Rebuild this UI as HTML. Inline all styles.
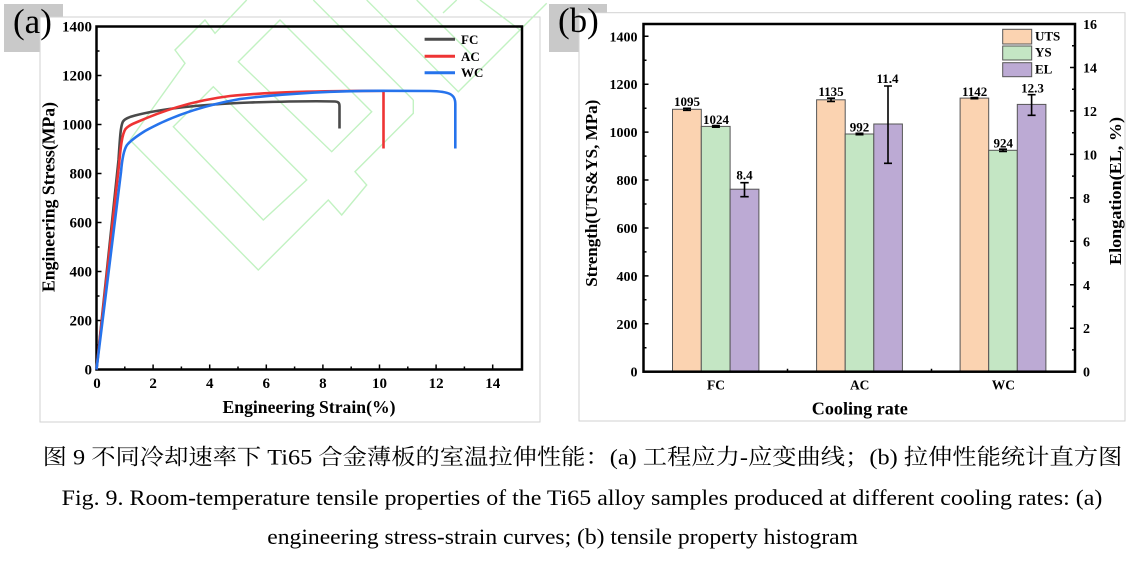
<!DOCTYPE html>
<html><head><meta charset="utf-8">
<style>
html,body{margin:0;padding:0;background:#fff;}
svg{display:block;}
text{font-family:"Liberation Serif","Noto Serif CJK SC",serif;}
.b{font-weight:bold;}
</style></head>
<body>
<svg width="1134" height="561" viewBox="0 0 1134 561" xmlns="http://www.w3.org/2000/svg">
<rect x="0" y="0" width="1134" height="561" fill="#fff"/>

<!-- ===== Panel (a) ===== -->
<rect x="4" y="4" width="59" height="48" fill="#c9c9c9"/>
<rect x="40" y="17" width="500" height="405" fill="#fff" stroke="#d2d2d2" stroke-width="1"/>

<!-- watermark -->
<g fill="none" stroke="#c2f2c2" stroke-width="1.4">
<polyline points="130,140 258.3,270 328.3,200 341.7,215 366.7,185 355,171.7 413.3,113.3 413.3,100"/>
<polyline points="130,140 185,63.3 175,50 205,20 215,33.3 246.7,0"/>
<polygon points="173.3,126.7 213.3,86.7 306.7,180 263.3,220"/>
<polygon points="238.3,61.7 280,20 371.7,111.7 331.7,151.7"/>
<polyline points="313.3,0 413.3,100"/>
<polyline points="366.7,0 458.3,91.7 546.7,3.3"/>
<polyline points="416.7,0 473,56"/>
<polyline points="443,13 456.7,0"/>
<polyline points="480,0 520,30"/>
</g>

<text x="13" y="33" font-size="35">(a)</text>

<!-- frame -->
<rect x="96.5" y="26.5" width="425.5" height="343" fill="none" stroke="#000" stroke-width="2.5"/>
<!-- ticks -->
<g stroke="#000" stroke-width="1.5">
<path d="M96.5,320.5h5M96.5,271.5h5M96.5,222.5h5M96.5,173.5h5M96.5,124.5h5M96.5,75.5h5"/>
<path d="M96.5,345h3M96.5,296h3M96.5,247h3M96.5,198h3M96.5,149h3M96.5,100h3M96.5,51h3"/>
<path d="M153.1,369.5v-5M209.7,369.5v-5M266.3,369.5v-5M322.9,369.5v-5M379.5,369.5v-5M436.1,369.5v-5M492.7,369.5v-5"/>
<path d="M124.8,369.5v-3M181.4,369.5v-3M238,369.5v-3M294.6,369.5v-3M351.2,369.5v-3M407.8,369.5v-3M464.4,369.5v-3"/>
</g>
<g class="b" font-size="15" text-anchor="end">
<text x="92" y="374.5">0</text>
<text x="92" y="325.5">200</text>
<text x="92" y="276.5">400</text>
<text x="92" y="227.5">600</text>
<text x="92" y="178.5">800</text>
<text x="92" y="129.5">1000</text>
<text x="92" y="80.5">1200</text>
<text x="92" y="31.5">1400</text>
</g>
<g class="b" font-size="15" text-anchor="middle">
<text x="97" y="388">0</text>
<text x="153.1" y="388">2</text>
<text x="209.7" y="388">4</text>
<text x="266.3" y="388">6</text>
<text x="322.9" y="388">8</text>
<text x="379.5" y="388">10</text>
<text x="436.1" y="388">12</text>
<text x="492.7" y="388">14</text>
</g>
<text class="b" x="222.5" y="413" font-size="18" textLength="173" lengthAdjust="spacingAndGlyphs">Engineering Strain(%)</text>
<text class="b" font-size="18" transform="translate(54.5,292) rotate(-90)" textLength="190" lengthAdjust="spacingAndGlyphs">Engineering Stress(MPa)</text>

<!-- curves -->
<g fill="none" stroke-width="2.6" stroke-linejoin="round">
<path stroke="#4a4a4a" d="M96.5,369.5 L118.5,160 C120,138 120.5,126 123,121.5 C125,118.5 129,117 135,115.5 C160,109 200,104.5 250,102.5 C290,101.3 320,101 335,101.5 C338.5,101.8 339.5,103 339.5,106 L339.5,128.5"/>
<path stroke="#ee3434" d="M96.5,369.5 L119,165 C120.5,148 122,134 125.5,129 C128,126 131,124.5 136,122.5 C160,112 190,101 230,96 C270,92 320,91 383.5,90.8 L383.5,148.5"/>
<path stroke="#2673ec" d="M96.5,369.5 L121,172 C122,160 123.5,150 127,145 C131,140 137,136 145,131 C170,117 200,106 240,99 C280,94 330,91 380,90.8 L430,91 C440,91.2 446,92 450,94 C454,96 455.3,99 455.3,104 L455.3,148.5"/>
</g>
<!-- legend (a) -->
<g stroke-width="3">
<line x1="424.6" y1="39.3" x2="455" y2="39.3" stroke="#4a4a4a"/>
<line x1="424.6" y1="56.3" x2="455" y2="56.3" stroke="#ee3434"/>
<line x1="424.6" y1="72.7" x2="455" y2="72.7" stroke="#2673ec"/>
</g>
<g class="b" font-size="13">
<text x="461" y="43.8">FC</text>
<text x="461" y="60.8">AC</text>
<text x="461" y="77.2">WC</text>
</g>

<!-- ===== Panel (b) ===== -->
<rect x="549" y="4" width="58" height="48" fill="#c9c9c9"/>
<rect x="579" y="12.7" width="546" height="408.3" fill="#fff" stroke="#d2d2d2" stroke-width="1"/>
<text x="558" y="32" font-size="35">(b)</text>

<!-- bars -->
<g stroke="#555" stroke-width="1">
<rect x="672.5" y="109.3" width="28.8" height="262.4" fill="#fbd3b1"/>
<rect x="701.3" y="126.4" width="28.8" height="245.3" fill="#c4e6c4"/>
<rect x="730.1" y="189.2" width="28.8" height="182.5" fill="#bcaad4"/>
<rect x="816.6" y="99.8" width="28.6" height="271.9" fill="#fbd3b1"/>
<rect x="845.2" y="134.0" width="28.6" height="237.7" fill="#c4e6c4"/>
<rect x="873.8" y="124.0" width="28.6" height="247.7" fill="#bcaad4"/>
<rect x="960.1" y="98.1" width="28.6" height="273.6" fill="#fbd3b1"/>
<rect x="988.7" y="150.3" width="28.6" height="221.4" fill="#c4e6c4"/>
<rect x="1017.3" y="104.4" width="28.6" height="267.3" fill="#bcaad4"/>
</g>
<!-- error bars -->
<g stroke="#000" stroke-width="1.6" fill="none">
<path d="M687,108.3V110.3M683,108.3h8M683,110.3h8"/>
<path d="M715.9,125.6V127.2M711.9,125.6h8M711.9,127.2h8"/>
<path d="M744.5,182.7V196.7M740.3,182.7h8.4M740.3,196.7h8.4"/>
<path d="M831,98.2V101.5M827,98.2h8M827,101.5h8"/>
<path d="M859.5,133.3V134.7M855.5,133.3h8M855.5,134.7h8"/>
<path d="M888,86V163.3M884,86h8M884,163.3h8"/>
<path d="M974.4,97.5V98.7M970.4,97.5h8M970.4,98.7h8"/>
<path d="M1003,149.2V151.4M999,149.2h8M999,151.4h8"/>
<path d="M1031.6,94.7V115.3M1027.6,94.7h8M1027.6,115.3h8"/>
</g>
<!-- value labels -->
<g class="b" font-size="13" text-anchor="middle">
<text x="687" y="106">1095</text>
<text x="716" y="124">1024</text>
<text x="744.5" y="179.5">8.4</text>
<text x="831" y="96">1135</text>
<text x="859.5" y="131.5">992</text>
<text x="887.5" y="83">11.4</text>
<text x="974.6" y="96">1142</text>
<text x="1003.2" y="147.5">924</text>
<text x="1032.5" y="92.5">12.3</text>
</g>

<!-- frame -->
<rect x="643.5" y="24" width="431.5" height="347.7" fill="none" stroke="#000" stroke-width="2.5"/>
<g stroke="#000" stroke-width="1.5">
<path d="M643.5,323.8h5M643.5,275.9h5M643.5,228h5M643.5,180h5M643.5,132.1h5M643.5,84.2h5M643.5,36.3h5"/>
<path d="M643.5,347.7h3M643.5,299.8h3M643.5,251.9h3M643.5,204h3M643.5,156.1h3M643.5,108.2h3M643.5,60.3h3"/>
<path d="M1075,328.2h-5M1075,284.8h-5M1075,241.3h-5M1075,197.9h-5M1075,154.4h-5M1075,110.9h-5M1075,67.5h-5"/>
<path d="M1075,349.9h-3M1075,306.5h-3M1075,263h-3M1075,219.6h-3M1075,176.1h-3M1075,132.7h-3M1075,89.2h-3M1075,45.7h-3"/>
<path d="M787.5,371.7v-3M931.5,371.7v-3"/>
</g>
<g class="b" font-size="14" text-anchor="end">
<text x="637.5" y="376.7">0</text>
<text x="637.5" y="328.8">200</text>
<text x="637.5" y="280.9">400</text>
<text x="637.5" y="233">600</text>
<text x="637.5" y="185">800</text>
<text x="637.5" y="137.1">1000</text>
<text x="637.5" y="89.2">1200</text>
<text x="637.5" y="41.3">1400</text>
</g>
<g class="b" font-size="14">
<text x="1083" y="376.7">0</text>
<text x="1083" y="333.2">2</text>
<text x="1083" y="289.8">4</text>
<text x="1083" y="246.3">6</text>
<text x="1083" y="202.9">8</text>
<text x="1083" y="159.4">10</text>
<text x="1083" y="115.9">12</text>
<text x="1083" y="72.5">14</text>
<text x="1083" y="29">16</text>
</g>
<g class="b" font-size="13.5" text-anchor="middle">
<text x="716" y="389.5">FC</text>
<text x="859.7" y="389.5">AC</text>
<text x="1003.4" y="389.5">WC</text>
</g>
<text class="b" x="811.8" y="414.5" font-size="18" textLength="96" lengthAdjust="spacingAndGlyphs">Cooling rate</text>
<text class="b" font-size="17" transform="translate(597,286.7) rotate(-90)" textLength="187" lengthAdjust="spacingAndGlyphs">Strength(UTS&amp;YS, MPa)</text>
<text class="b" font-size="17" transform="translate(1121,265) rotate(-90)" textLength="148" lengthAdjust="spacingAndGlyphs">Elongation(EL, %)</text>

<!-- legend (b) -->
<g stroke="#555" stroke-width="1">
<rect x="1002.7" y="29.3" width="29" height="14.7" fill="#fbd3b1"/>
<rect x="1002.7" y="46" width="29" height="14" fill="#c4e6c4"/>
<rect x="1002.7" y="62.7" width="29" height="14" fill="#bcaad4"/>
</g>
<g class="b" font-size="13">
<text x="1035" y="40.7">UTS</text>
<text x="1035" y="56.7">YS</text>
<text x="1035" y="73.3">EL</text>
</g>

<!-- ===== Caption ===== -->
<text x="42.7" y="464.5" font-size="22" textLength="1079.6" lengthAdjust="spacingAndGlyphs">图 9  不同冷却速率下 Ti65 合金薄板的室温拉伸性能：(a)  工程应力-应变曲线；(b)  拉伸性能统计直方图</text>
<text x="61.7" y="505" font-size="22" textLength="1040.6" lengthAdjust="spacingAndGlyphs">Fig. 9. Room-temperature tensile properties of the Ti65 alloy samples produced at different cooling rates: (a)</text>
<text x="267.3" y="544" font-size="22" textLength="590.7" lengthAdjust="spacingAndGlyphs">engineering stress-strain curves; (b) tensile property histogram</text>
</svg>
</body></html>
